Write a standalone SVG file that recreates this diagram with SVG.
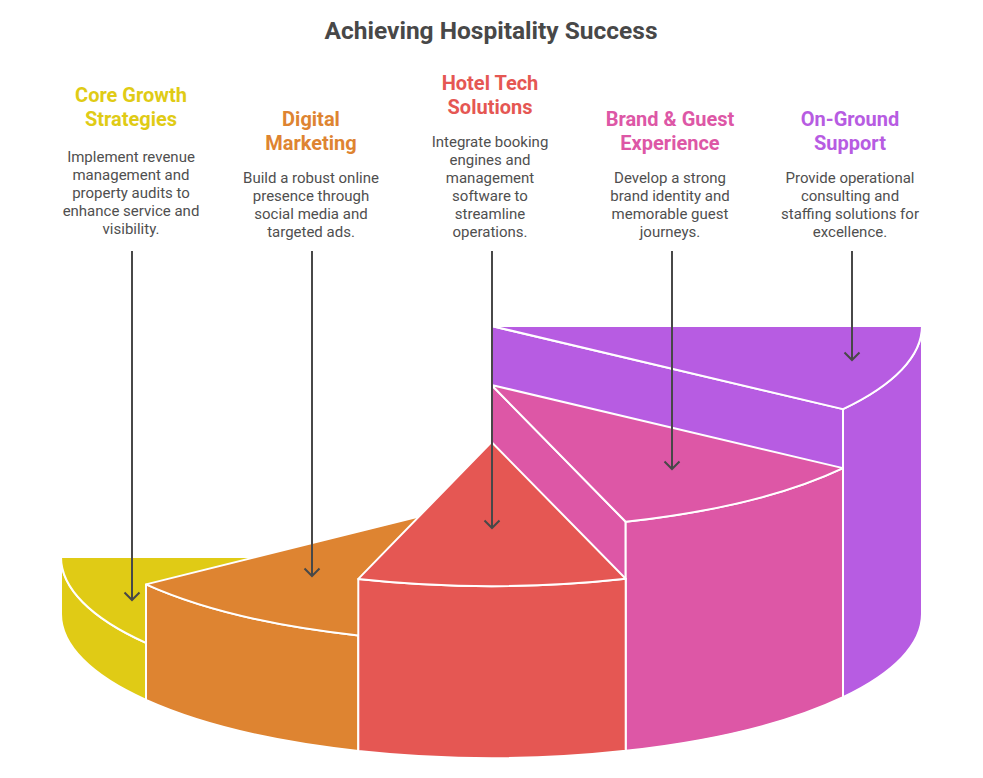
<svg xmlns="http://www.w3.org/2000/svg" width="983" height="778" viewBox="0 0 983 778">
  <defs>
    <style>
      .title { font-family: Roboto, "Liberation Sans", sans-serif; font-size: 24.5px; font-weight: 700; fill: #484848; text-anchor: middle; }
      .head { font-family: Roboto, "Liberation Sans", sans-serif; font-size: 20px; font-weight: 700; text-anchor: middle; }
      .desc { font-family: Roboto, "Liberation Sans", sans-serif; font-size: 15px; fill: #4f4f4f; text-anchor: middle; }
      .face { stroke: #ffffff; stroke-width: 2; stroke-linejoin: round; }
      .y { fill: #E0CB15; }
      .o { fill: #DE8431; }
      .r { fill: #E55753; }
      .p { fill: #DD57A6; }
      .u { fill: #B75CE2; }
      .conn { fill: none; stroke: #484848; stroke-width: 2; }
    </style>
    <marker id="ah" viewBox="0 0 20 20" refX="10" refY="10" markerWidth="20" markerHeight="20" markerUnits="userSpaceOnUse" orient="auto">
      <path d="M2.5,2.5 L10,10 L2.5,17.5" fill="none" stroke="#484848" stroke-width="2"/>
    </marker>
  </defs>
  <rect width="983" height="778" fill="#ffffff"/>

  <text class="title" x="491" y="39">Achieving Hospitality Success</text>

  <g id="pie">
    <g id="slice-core-growth">
      <path class="face y" d="M61,557 A430.5,144 0 0 0 146,642.9 L146,699.9 A430.5,144 0 0 1 61,614 Z"/>
      <path class="face y" d="M491.5,557 L61,557 A430.5,144 0 0 0 146,642.9 Z"/>
    </g>
    <g id="slice-digital-marketing">
      <path class="face o" d="M146,584.4 A430.5,144 0 0 0 358.3,635.4 L358.3,750.9 A430.5,144 0 0 1 146,699.9 Z"/>
      <path class="face o" d="M491.5,498.5 L146,584.4 A430.5,144 0 0 0 358.3,635.4 Z"/>
    </g>
    <g id="slice-on-ground">
      <path class="face u" d="M491.5,326 L843,409.1 L843,697.1 L491.5,614 Z"/>
      <path class="face u" d="M922,326 A430.5,144 0 0 1 843,409.1 L843,697.1 A430.5,144 0 0 0 922,614 Z"/>
      <path class="face u" d="M491.5,326 L922,326 A430.5,144 0 0 1 843,409.1 Z"/>
    </g>
    <g id="slice-brand-guest">
      <path class="face p" d="M491.5,385 L625.7,521.8 L625.7,750.8 L491.5,614 Z"/>
      <path class="face p" d="M843,468.1 A430.5,144 0 0 1 625.7,521.8 L625.7,750.8 A430.5,144 0 0 0 843,697.1 Z"/>
      <path class="face p" d="M491.5,385 L843,468.1 A430.5,144 0 0 1 625.7,521.8 Z"/>
    </g>
    <g id="slice-hotel-tech">
      <path class="face r" d="M625.7,578.8 A430.5,144 0 0 1 358.3,578.9 L358.3,750.9 A430.5,144 0 0 0 625.7,750.8 Z"/>
      <path class="face r" d="M491.5,442 L625.7,578.8 A430.5,144 0 0 1 358.3,578.9 Z"/>
    </g>
  </g>

  <g id="node-core-growth">
    <text class="head" fill="#E0CB15" x="131" y="102">Core Growth</text>
    <text class="head" fill="#E0CB15" x="131" y="126">Strategies</text>
    <text class="desc" x="131" y="161.5">Implement revenue</text>
    <text class="desc" x="131" y="179.5">management and</text>
    <text class="desc" x="131" y="197.5">property audits to</text>
    <text class="desc" x="131" y="215.5">enhance service and</text>
    <text class="desc" x="131" y="233.5">visibility.</text>
  </g>
  <g id="node-digital-marketing">
    <text class="head" fill="#DE8431" x="311" y="126">Digital</text>
    <text class="head" fill="#DE8431" x="311" y="150">Marketing</text>
    <text class="desc" x="311" y="182.5">Build a robust online</text>
    <text class="desc" x="311" y="200.5">presence through</text>
    <text class="desc" x="311" y="218.5">social media and</text>
    <text class="desc" x="311" y="236.5">targeted ads.</text>
  </g>
  <g id="node-hotel-tech">
    <text class="head" fill="#E55753" x="490" y="90">Hotel Tech</text>
    <text class="head" fill="#E55753" x="490" y="114">Solutions</text>
    <text class="desc" x="490" y="146.5">Integrate booking</text>
    <text class="desc" x="490" y="164.5">engines and</text>
    <text class="desc" x="490" y="182.5">management</text>
    <text class="desc" x="490" y="200.5">software to</text>
    <text class="desc" x="490" y="218.5">streamline</text>
    <text class="desc" x="490" y="236.5">operations.</text>
  </g>
  <g id="node-brand-guest">
    <text class="head" fill="#DD57A6" x="670" y="126">Brand &amp; Guest</text>
    <text class="head" fill="#DD57A6" x="670" y="150">Experience</text>
    <text class="desc" x="670" y="182.5">Develop a strong</text>
    <text class="desc" x="670" y="200.5">brand identity and</text>
    <text class="desc" x="670" y="218.5">memorable guest</text>
    <text class="desc" x="670" y="236.5">journeys.</text>
  </g>
  <g id="node-on-ground">
    <text class="head" fill="#B75CE2" x="850" y="126">On-Ground</text>
    <text class="head" fill="#B75CE2" x="850" y="150">Support</text>
    <text class="desc" x="850" y="182.5">Provide operational</text>
    <text class="desc" x="850" y="200.5">consulting and</text>
    <text class="desc" x="850" y="218.5">staffing solutions for</text>
    <text class="desc" x="850" y="236.5">excellence.</text>
  </g>

  <g id="connectors">
    <path class="conn" d="M132,251 L132,600" marker-end="url(#ah)"/>
    <path class="conn" d="M312,251 L312,576" marker-end="url(#ah)"/>
    <path class="conn" d="M492,251 L492,528" marker-end="url(#ah)"/>
    <path class="conn" d="M672,251 L672,469" marker-end="url(#ah)"/>
    <path class="conn" d="M852,251 L852,360" marker-end="url(#ah)"/>
  </g>
</svg>
